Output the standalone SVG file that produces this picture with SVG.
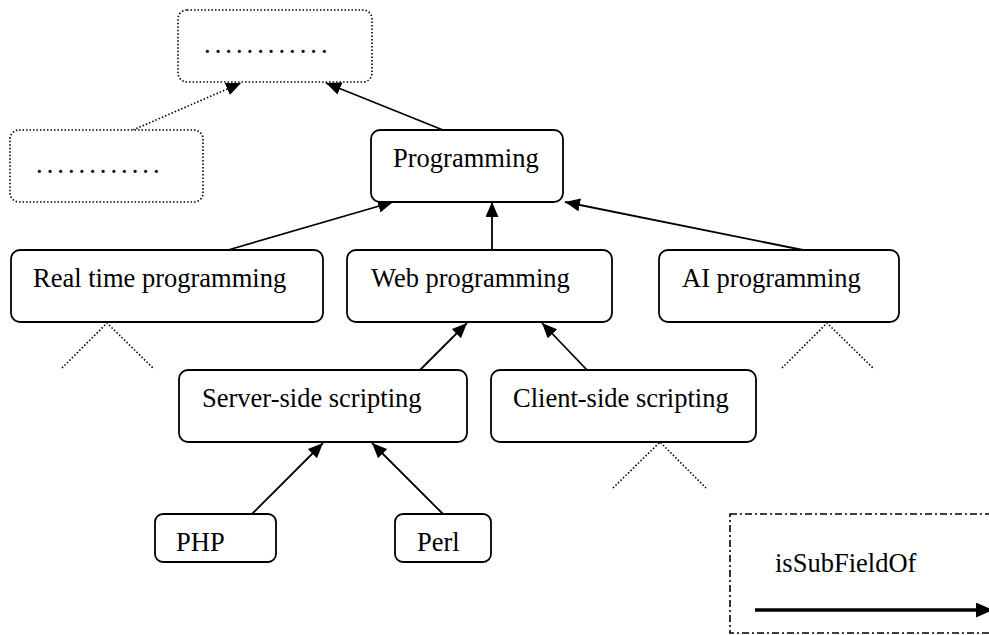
<svg xmlns="http://www.w3.org/2000/svg" width="989" height="635" viewBox="0 0 989 635">
<style>
.node{fill:#fff;stroke:#000;stroke-width:1.8}
.dotbox{fill:#fff;stroke:#000;stroke-width:1.6;stroke-dasharray:1.5 2}
.t{font-family:"Liberation Serif","Times New Roman",serif;font-size:26.5px;fill:#000}
.dots{font-family:"Liberation Serif","Times New Roman",serif;font-size:26.5px;fill:#000;letter-spacing:4px}
.e{stroke:#000;stroke-width:1.8;fill:none}
.ed{stroke:#000;stroke-width:1.6;fill:none;stroke-dasharray:1.5 2}
</style>
<defs>
<marker id="ah" markerWidth="15" markerHeight="13" refX="15" refY="6.5" orient="auto" markerUnits="userSpaceOnUse"><path d="M0,0 L15,6.5 L0,13 z" fill="#000"/></marker>
<marker id="ahl" markerWidth="17" markerHeight="15" refX="17" refY="7.5" orient="auto" markerUnits="userSpaceOnUse"><path d="M0,0 L17,7.5 L0,15 z" fill="#000"/></marker>
</defs>
<rect x="0" y="0" width="989" height="635" fill="#fff"/>
<g id="connectors">
<line class="ed" x1="133" y1="130" x2="241" y2="83" marker-end="url(#ah)"/>
<line class="e" x1="443" y1="130" x2="326" y2="83" marker-end="url(#ah)"/>
<line class="e" x1="228" y1="250" x2="393" y2="202" marker-end="url(#ah)"/>
<line class="e" x1="492" y1="250" x2="492" y2="202" marker-end="url(#ah)"/>
<line class="e" x1="803" y1="250" x2="565" y2="202" marker-end="url(#ah)"/>
<line class="e" x1="420" y1="370" x2="467" y2="323" marker-end="url(#ah)"/>
<line class="e" x1="587" y1="370" x2="542" y2="323" marker-end="url(#ah)"/>
<line class="e" x1="252" y1="514" x2="323" y2="443" marker-end="url(#ah)"/>
<line class="e" x1="443" y1="514" x2="372" y2="443" marker-end="url(#ah)"/>
<polyline class="ed" points="62,368 107,323 153,368"/>
<polyline class="ed" points="782,368 827,323 873,368"/>
<polyline class="ed" points="613,488 660,442 706,488"/>
</g>
<g id="top">
<rect class="dotbox" x="178" y="10" width="194" height="72" rx="9"/>
<text class="dots" x="204" y="53">............</text>
</g>
<g id="left">
<rect class="dotbox" x="10" y="130" width="193" height="72" rx="9"/>
<text class="dots" x="36" y="173">............</text>
</g>
<g id="programming">
<rect class="node" x="371" y="130" width="192" height="72" rx="9"/>
<text class="t" x="393" y="167">Programming</text>
</g>
<g id="realtime">
<rect class="node" x="11" y="250" width="312" height="72" rx="9"/>
<text class="t" x="33" y="287">Real time programming</text>
</g>
<g id="web">
<rect class="node" x="347" y="250" width="265" height="72" rx="9"/>
<text class="t" x="371" y="287">Web programming</text>
</g>
<g id="ai">
<rect class="node" x="659" y="250" width="240" height="72" rx="9"/>
<text class="t" x="682" y="287">AI programming</text>
</g>
<g id="server">
<rect class="node" x="179" y="370" width="288" height="72" rx="9"/>
<text class="t" x="202" y="407">Server-side scripting</text>
</g>
<g id="client">
<rect class="node" x="491" y="370" width="265" height="72" rx="9"/>
<text class="t" x="513" y="407">Client-side scripting</text>
</g>
<g id="php">
<rect class="node" x="155" y="514" width="121" height="48" rx="8"/>
<text class="t" x="176" y="551">PHP</text>
</g>
<g id="perl">
<rect class="node" x="395" y="514" width="96" height="48" rx="8"/>
<text class="t" x="417" y="551">Perl</text>
</g>
<g id="legend">
<rect x="730" y="514" width="280" height="119" fill="none" stroke="#000" stroke-width="1.6" stroke-dasharray="7 3 2 3"/>
<text class="t" x="775" y="572">isSubFieldOf</text>
<line x1="755" y1="610" x2="993" y2="610" stroke="#000" stroke-width="3.5" marker-end="url(#ahl)"/>
</g>
</svg>
